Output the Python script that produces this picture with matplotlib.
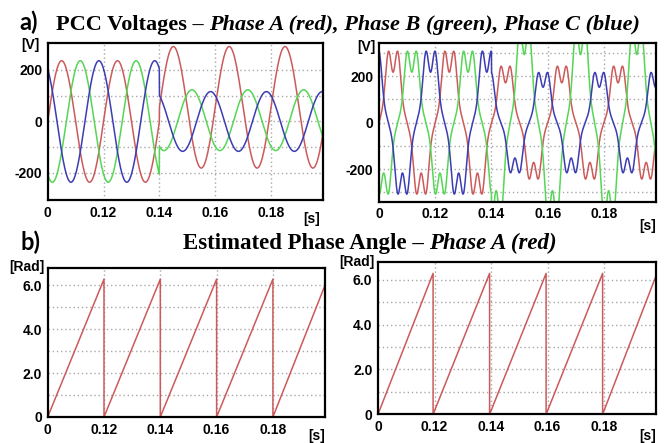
import matplotlib
matplotlib.use('Agg')
import matplotlib.pyplot as plt
import numpy as np

W, H = 666, 443

# --- data ---
f_grid = 50.0                       # Hz
t_fault = 0.14                      # s, change of conditions
t_end = 0.1985
phase_colors = ['#cc5a5a', '#55d655', '#3c3cb4']   # A, B, C
phase_shift_deg = [0, -120, 120]

# left top panel: clean sinusoids
left_amp_pre = [236, 236, 236]
left_amp_post = [236, 118, 116]
left_offset_post = [55, 5, 0]

# right top panel: distorted sinusoids (fundamental + 5th + 7th)
right_amp_pre = [285, 285, 285]
right_amp_post = [225, 385, 200]
harm_order = [5, 7]
harm_ratio = [-0.18, 0.06]

# bottom panels: estimated phase angle (sawtooth vertices)
angle_t_left = [0.10, 0.12, 0.12, 0.14, 0.14, 0.16, 0.16, 0.18, 0.18, 0.1985]
angle_v_left = [0.0, 6.28, 0.0, 6.28, 0.0, 6.28, 0.0, 6.28, 0.0, 6.0]
angle_t_right = [0.10, 0.1195, 0.1195, 0.1395, 0.1395, 0.1595, 0.1595, 0.1795, 0.1795, 0.1985]
angle_v_right = [0.0, 6.28, 0.0, 6.28, 0.0, 6.28, 0.0, 6.28, 0.0, 6.2]

xtick_pos = [0.10, 0.12, 0.14, 0.16, 0.18]
xtick_lab = ['0', '0.12', '0.14', '0.16', '0.18']


def waveform(t, amp_pre, amp_post, off_post, shift, harmonics):
    th = 2 * np.pi * f_grid * (t - 0.10) + np.deg2rad(shift)
    shape = np.sin(th)
    if harmonics:
        for n, r in zip(harm_order, harm_ratio):
            shape = shape + r * np.sin(n * th)
    return np.where(t < t_fault, amp_pre * shape, off_post + amp_post * shape)


def px_rect(l, t, r, b):
    return [l / W, 1 - b / H, (r - l) / W, (b - t) / H]


def style_axes(ax, ylim, ygrid, ylabels):
    ax.set_xlim(0.10, t_end)
    ax.set_ylim(*ylim)
    ax.set_xticks(xtick_pos)
    ax.set_xticklabels(xtick_lab)
    ax.set_yticks(ygrid)
    ax.set_yticklabels(ylabels)
    ax.tick_params(length=0, pad=4, labelsize=10)
    for lab in ax.get_xticklabels() + ax.get_yticklabels():
        lab.set_fontweight('bold')
        lab.set_family('Liberation Sans')
    for g in ygrid:
        if ylim[0] < g < ylim[1]:
            ax.axhline(g, color='#a8a8a8', lw=1.0, ls=(0, (1, 2)), zorder=0)
    for x in xtick_pos[1:]:
        ax.axvline(x, color='#a8a8a8', lw=1.0, ls=(0, (1, 2)), zorder=0)
    for s in ax.spines.values():
        s.set_linewidth(1.6)


fig = plt.figure(figsize=(W / 100, H / 100), dpi=100)
t = np.linspace(0.10, t_end, 3000)

# top left
ax1 = fig.add_axes(px_rect(47.7, 42.7, 322.7, 200))
for i in range(3):
    ax1.plot(t, waveform(t, left_amp_pre[i], left_amp_post[i], left_offset_post[i],
                         phase_shift_deg[i], False), color=phase_colors[i], lw=1.1)
style_axes(ax1, (-305, 306), [-200, -100, 0, 100, 200],
           ['-200', '', '0', '', '200'])

# top right
ax2 = fig.add_axes(px_rect(379, 43.3, 656, 201.7))
for i in range(3):
    ax2.plot(t, waveform(t, right_amp_pre[i], right_amp_post[i], 0,
                         phase_shift_deg[i], True), color=phase_colors[i], lw=1.1)
style_axes(ax2, (-340, 341), [-300, -200, -100, 0, 100, 200, 300],
           ['', '-200', '', '0', '', '200', ''])

# bottom left
ax3 = fig.add_axes(px_rect(47.7, 267.7, 325, 417))
ax3.plot(angle_t_left, angle_v_left, color=phase_colors[0], lw=1.1)
style_axes(ax3, (0, 6.8), [0, 1, 2, 3, 4, 5, 6],
           ['0', '', '2.0', '', '4.0', '', '6.0'])

# bottom right
ax4 = fig.add_axes(px_rect(378, 261.7, 656.3, 414.3))
ax4.plot(angle_t_right, angle_v_right, color=phase_colors[0], lw=1.1)
style_axes(ax4, (0, 6.8), [0, 1, 2, 3, 4, 5, 6],
           ['0', '', '2.0', '', '4.0', '', '6.0'])

# unit labels
unit_kw = dict(fontsize=10, fontweight='bold', family='Liberation Sans')
fig.text(40 / W, 1 - 45 / H, '[V]', ha='right', va='center', **unit_kw)
fig.text(375 / W, 1 - 47 / H, '[V]', ha='right', va='center', **unit_kw)
fig.text(320 / W, 1 - 219 / H, '[s]', ha='right', va='center', **unit_kw)
fig.text(656 / W, 1 - 226 / H, '[s]', ha='right', va='center', **unit_kw)
fig.text(44 / W, 1 - 267 / H, '[Rad]', ha='right', va='center', **unit_kw)
fig.text(375 / W, 1 - 262 / H, '[Rad]', ha='right', va='center', **unit_kw)
fig.text(325 / W, 1 - 436 / H, '[s]', ha='right', va='center', **unit_kw)
fig.text(656 / W, 1 - 436 / H, '[s]', ha='right', va='center', **unit_kw)

# panel letters
fig.text(19 / W, 1 - 30 / H, 'a)', fontsize=17, fontweight='bold', family='Lato',
         va='baseline')
fig.text(20 / W, 1 - 250 / H, 'b)', fontsize=17, fontweight='bold', family='Lato',
         va='baseline')


def rich_text(x_px, y_px, parts, size, center=False):
    renderer = fig.canvas.get_renderer()
    items = []
    for s, style in parts:
        items.append(fig.text(0, 1 - y_px / H, s, fontsize=size, fontweight='bold',
                              fontstyle=style, family='Liberation Serif', va='baseline'))
    widths = [it.get_window_extent(renderer).width for it in items]
    x = x_px - (sum(widths) / 2 if center else 0)
    for it, w in zip(items, widths):
        it.set_x(x / W)
        x += w


rich_text(56, 30, [('PCC Voltages \u2013 ', 'normal'),
                   ('Phase A (red), Phase B (green), Phase C (blue)', 'italic')], 16)
rich_text(370, 249, [('Estimated Phase Angle \u2013 ', 'normal'),
                     ('Phase A (red)', 'italic')], 16.5, center=True)

fig.savefig('out.png', dpi=100)
